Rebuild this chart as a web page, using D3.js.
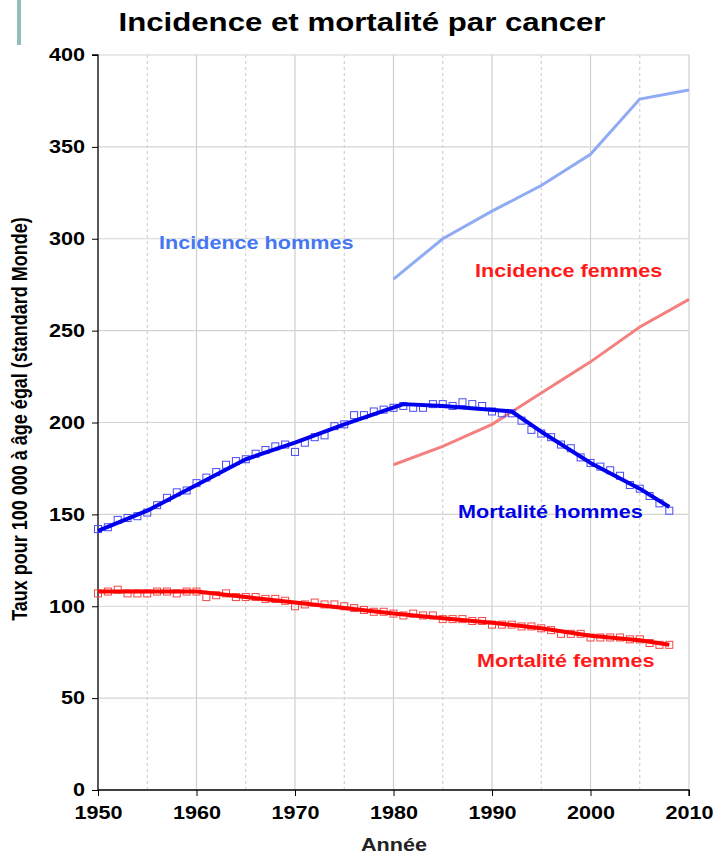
<!DOCTYPE html>
<html><head><meta charset="utf-8">
<script src="https://cdn.jsdelivr.net/npm/d3@7"></script>
<style>body{margin:0;background:#fff;} svg{display:block;font-family:"Liberation Sans",Arial,sans-serif;}</style>
</head><body>
<svg id="c" width="715" height="855"></svg>
<script>
const xTicks = [1950,1960,1970,1980,1990,2000,2010];
const yTicks = [0,50,100,150,200,250,300,350,400];

const mortHYears = d3.range(1950,2009);
const mortHPoints = [142,143,147,148,149,151,155,159,162,163,167,170,173,177,179,180,183,185,187,188,184,189,192,193,198,199,204,204,206,207,208,209,208,208,210,210,209,211,210,209,206,205,205,201,196,194,192,188,186,181,178,176,174,171,166,164,160,156,152];
const mortFPoints = [107,108,109,107,107,107,108,108,107,108,108,105,106,107,105,105,105,104,104,103,100,101,102,101,101,100,99,98,97,97,96,95,96,95,95,93,93,93,92,92,90,90,90,89,89,88,87,85,85,85,83,83,83,83,82,82,80,79,79];

const mortHTrendYears = [1950,1955,1960,1965,1970,1975,1981,1985,1992,1995,2000,2005,2008];
const mortHTrend = [141,152,166,180,189,199,210,209,206,195,178,164,154];
const mortFTrendYears = [1950,1960,1965,1970,1975,1980,1985,1990,1995,2000,2005,2008];
const mortFTrend = [108,108,105,102,99,96,93.5,91,88,84,81.5,79];

const incYears = [1980,1985,1990,1995,2000,2005,2010];
const incH = [278,300,315,329,346,376,381];
const incF = [177,187,199,216,233,252,267];

const labels = ["Incidence hommes","Incidence femmes","Mortalité hommes","Mortalité femmes"];

const SX = 1.2; // horizontal stretch of the lettering
const svg = d3.select("#c");
const x = d3.scaleLinear().domain([1950,2010]).range([98,689]);
const y = d3.scaleLinear().domain([0,400]).range([790,55]);

// teal bar
svg.append("rect").attr("x",17).attr("y",0).attr("width",4).attr("height",45).attr("fill","#93bcbc");

// grid
const g = svg.append("g");
d3.range(1955,2010,10).forEach(v=>{
  g.append("line").attr("x1",x(v)).attr("x2",x(v)).attr("y1",y(400)).attr("y2",y(0))
   .attr("stroke","#c8c8c8").attr("stroke-dasharray","3,3").attr("stroke-width",1);
});
xTicks.slice(1).forEach(v=>{
  g.append("line").attr("x1",x(v)).attr("x2",x(v)).attr("y1",y(400)).attr("y2",y(0))
   .attr("stroke","#cfcfcf").attr("stroke-width",1.2);
});
yTicks.slice(1).forEach(v=>{
  g.append("line").attr("x1",x(1950)).attr("x2",x(2010)).attr("y1",y(v)).attr("y2",y(v))
   .attr("stroke","#d4d4d4").attr("stroke-width",1.2);
});

// axes
const ya = svg.append("g").attr("transform",`translate(${x(1950)},0)`)
  .call(d3.axisLeft(y).tickValues(yTicks).tickSize(6).tickPadding(7));
const xa = svg.append("g").attr("transform",`translate(0,${y(0)})`)
  .call(d3.axisBottom(x).tickValues(xTicks).tickFormat(d3.format("d")).tickSize(6).tickPadding(10));
[ya,xa].forEach(a=>{
  a.select(".domain").attr("stroke","#000").attr("stroke-width",1.3);
  a.selectAll(".tick line").attr("stroke","#000");
  a.selectAll("text").attr("font-size",18).attr("font-weight","bold").attr("fill","#000")
   .attr("font-family","'Liberation Sans',Arial,sans-serif");
});
ya.selectAll(".tick text").attr("x",-13/SX).attr("transform",`scale(${SX},1)`);
xa.selectAll(".tick text").attr("transform",`scale(${SX},1)`);
ya.select(".domain").attr("d",`M-6,${y(400)}H0V${y(0)}`);
xa.select(".domain").attr("d",`M${x(1950)},0H${x(2010)}V6`);

const line = d3.line().x(d=>x(d[0])).y(d=>y(d[1]));

// incidence lines
svg.append("path").datum(incYears.map((v,i)=>[v,incH[i]])).attr("d",line)
  .attr("fill","none").attr("stroke","#8fabf3").attr("stroke-width",3);
svg.append("path").datum(incYears.map((v,i)=>[v,incF[i]])).attr("d",line)
  .attr("fill","none").attr("stroke","#f58080").attr("stroke-width",3);

// scatter points
svg.append("g").selectAll("rect").data(mortHYears.map((v,i)=>[v,mortHPoints[i]])).join("rect")
  .attr("x",d=>x(d[0])-3.5).attr("y",d=>y(d[1])-3.5).attr("width",7).attr("height",7)
  .attr("fill","none").attr("stroke","#4a4af2").attr("stroke-width",1);
svg.append("g").selectAll("rect").data(mortHYears.map((v,i)=>[v,mortFPoints[i]])).join("rect")
  .attr("x",d=>x(d[0])-3.5).attr("y",d=>y(d[1])-3.5).attr("width",7).attr("height",7)
  .attr("fill","none").attr("stroke","#f24848").attr("stroke-width",1);

// trend lines
svg.append("path").datum(mortHTrendYears.map((v,i)=>[v,mortHTrend[i]])).attr("d",line)
  .attr("fill","none").attr("stroke","#0000ee").attr("stroke-width",4).attr("stroke-linejoin","round");
svg.append("path").datum(mortFTrendYears.map((v,i)=>[v,mortFTrend[i]])).attr("d",line)
  .attr("fill","none").attr("stroke","#ff0000").attr("stroke-width",4).attr("stroke-linejoin","round");

// stretched text helper
const stext = (t,xx,yy,size,col,anchor)=>svg.append("text").text(t)
  .attr("transform",`translate(${xx},${yy}) scale(${SX},1)`)
  .attr("text-anchor",anchor||"start").attr("font-size",size).attr("font-weight","bold").attr("fill",col);

stext(labels[0],159,249,18,"#4677f2");
stext(labels[1],475,277,18,"#ff1a1a");
stext(labels[2],458,518,18,"#0000e6");
stext(labels[3],477,667,18,"#ff1a1a");

// title
stext("Incidence et mortalité par cancer",362,31,26,"#000","middle");

// axis titles
stext("Année",394,851,18,"#222","middle");
svg.append("text").text("Taux pour 100 000 à âge égal (standard Monde)")
  .attr("transform","translate(27,419) rotate(-90) scale(1,1.2)").attr("text-anchor","middle")
  .attr("font-size",18).attr("font-weight","bold").attr("fill","#000");
</script>
</body></html>
